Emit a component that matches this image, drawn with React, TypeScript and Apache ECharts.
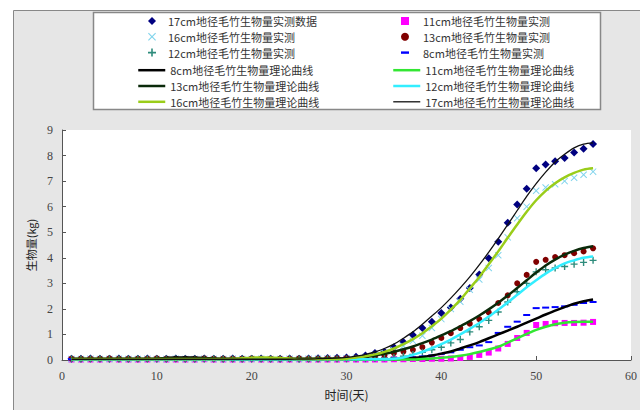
import React, { useEffect, useRef } from "react";
import * as echarts from "echarts";

const days = [1,2,3,4,5,6,7,8,9,10,11,12,13,14,15,16,17,18,19,20,21,22,23,24,25,26,27,28,29,30,31,32,33,34,35,36,37,38,39,40,41,42,43,44,45,46,47,48,49,50,51,52,53,54,55,56];

// measured
const m17 = [0.05,0.05,0.06,0.05,0.05,0.06,0.05,0.05,0.06,0.05, 0.05,0.06,0.05,0.05,0.06,0.05,0.05,0.06,0.05,0.05, 0.06,0.05,0.05,0.06,0.05,0.06,0.07,0.08,0.09,0.1, 0.13,0.18,0.27,0.32,0.5,0.7,0.98,1.25,1.5,1.84, 2.05,2.4,2.82,3.35,3.98,4.63,5.37,6.08,6.7,7.5, 7.65,7.78,7.9,8.12,8.27,8.45];
const m16 = [0.04,0.04,0.05,0.04,0.04,0.05,0.04,0.04,0.05,0.04, 0.04,0.05,0.04,0.04,0.05,0.04,0.04,0.05,0.04,0.04, 0.05,0.04,0.04,0.05,0.04,0.05,0.05,0.06,0.06,0.07, 0.08,0.12,0.2,0.28,0.38,0.55,0.75,0.95,1.25,1.6, 2.0,2.28,2.75,3.15,3.6,4.1,4.8,5.55,6.0,6.62, 6.75,6.88,7.0,7.13,7.25,7.37];
const m12 = [0.04,0.04,0.04,0.05,0.04,0.04,0.04,0.05,0.04,0.04, 0.04,0.05,0.04,0.04,0.04,0.05,0.04,0.04,0.04,0.05, 0.04,0.04,0.04,0.05,0.04,0.04,0.04,0.05,0.04,0.04, 0.05,0.05,0.06,0.08,0.1,0.15,0.22,0.3,0.4,0.5, 0.67,0.8,1.1,1.3,1.55,1.88,2.27,2.67,3.0,3.45, 3.53,3.6,3.66,3.75,3.82,3.9];
const m13 = [0.05,0.05,0.05,0.05,0.06,0.05,0.05,0.05,0.05,0.06, 0.05,0.05,0.05,0.05,0.06,0.05,0.05,0.05,0.05,0.06, 0.05,0.05,0.05,0.05,0.06,0.05,0.05,0.06,0.06,0.07, 0.08,0.1,0.15,0.2,0.27,0.33,0.4,0.5,0.68,0.86, 1.05,1.25,1.42,1.6,1.86,2.23,2.53,3.0,3.33,3.84, 3.92,4.03,4.1,4.18,4.25,4.37];
const m8 = [0.03,0.03,0.03,0.04,0.03,0.03,0.03,0.04,0.03,0.03, 0.03,0.04,0.03,0.03,0.03,0.04,0.03,0.03,0.03,0.04, 0.03,0.03,0.03,0.04,0.03,0.03,0.03,0.04,0.03,0.03, 0.03,0.04,0.04,0.04,0.05,0.07,0.1,0.14,0.18,0.24, 0.3,0.4,0.5,0.57,0.7,1.06,1.3,1.5,1.76,2.03, 2.05,2.07,2.1,2.16,2.23,2.27];
const m11 = [0.02,0.02,0.02,0.02,0.03,0.02,0.02,0.02,0.02,0.03, 0.02,0.02,0.02,0.02,0.03,0.02,0.02,0.02,0.02,0.03, 0.02,0.02,0.02,0.02,0.03,0.02,0.02,0.02,0.02,0.03, 0.02,0.02,0.02,0.02,0.03,0.03,0.04,0.04,0.05,0.05, 0.06,0.08,0.12,0.2,0.29,0.45,0.63,0.86,1.06,1.37, 1.41,1.44,1.45,1.45,1.46,1.49];

// theoretical curves
const f17 = [0.03,0.03,0.03,0.03,0.03,0.03,0.03,0.03,0.03,0.03, 0.03,0.03,0.03,0.03,0.03,0.03,0.03,0.03,0.03,0.03, 0.03,0.03,0.03,0.03,0.04,0.04,0.05,0.06,0.07,0.1, 0.15,0.22,0.32,0.45,0.62,0.85,1.1,1.4,1.72,2.05, 2.42,2.82,3.25,3.72,4.22,4.75,5.3,5.85,6.4,6.9, 7.35,7.75,8.05,8.3,8.45,8.5];
const f16 = [0.04,0.04,0.04,0.04,0.04,0.04,0.04,0.04,0.04,0.04, 0.04,0.04,0.04,0.04,0.04,0.04,0.04,0.05,0.07,0.09, 0.1,0.09,0.08,0.06,0.04,0.04,0.04,0.04,0.04,0.05, 0.1,0.15,0.22,0.32,0.45,0.62,0.82,1.05,1.32,1.62, 1.97,2.35,2.8,3.25,3.75,4.25,4.78,5.3,5.8,6.25, 6.62,6.92,7.15,7.32,7.45,7.5];
const f13 = [0.05,0.05,0.05,0.05,0.05,0.05,0.05,0.05,0.05,0.05, 0.05,0.05,0.05,0.05,0.05,0.05,0.05,0.05,0.05,0.05, 0.05,0.05,0.05,0.05,0.05,0.05,0.05,0.05,0.05,0.05, 0.08,0.12,0.17,0.24,0.32,0.42,0.53,0.66,0.8,0.96, 1.13,1.32,1.52,1.74,1.98,2.24,2.52,2.82,3.12,3.42, 3.7,3.93,4.12,4.27,4.38,4.45];
const f12 = [0.03,0.03,0.03,0.03,0.03,0.03,0.03,0.03,0.03,0.03, 0.03,0.03,0.03,0.03,0.03,0.03,0.03,0.03,0.03,0.03, 0.03,0.03,0.03,0.03,0.03,0.03,0.03,0.03,0.03,0.03, 0.03,0.03,0.03,0.03,0.05,0.1,0.2,0.32,0.46,0.62, 0.8,1.0,1.22,1.45,1.7,1.97,2.25,2.55,2.85,3.12, 3.38,3.6,3.78,3.9,4.0,4.05];
const f8 = [0.04,0.04,0.04,0.04,0.04,0.04,0.04,0.04,0.04,0.05, 0.08,0.1,0.1,0.09,0.08,0.06,0.04,0.04,0.04,0.04, 0.04,0.04,0.04,0.04,0.04,0.04,0.04,0.04,0.04,0.04, 0.03,0.03,0.03,0.03,0.03,0.05,0.08,0.12,0.18,0.25, 0.33,0.45,0.57,0.7,0.85,1.0,1.15,1.3,1.46,1.62, 1.78,1.93,2.07,2.2,2.3,2.37];
const f11 = [0.03,0.03,0.03,0.03,0.03,0.03,0.03,0.03,0.03,0.03, 0.03,0.03,0.03,0.03,0.03,0.03,0.03,0.03,0.03,0.03, 0.03,0.03,0.03,0.03,0.03,0.03,0.03,0.03,0.03,0.03, 0.02,0.02,0.02,0.02,0.02,0.02,0.02,0.04,0.06,0.09, 0.12,0.17,0.23,0.31,0.41,0.52,0.68,0.85,1.02,1.18, 1.3,1.4,1.46,1.49,1.5,1.5];

const yTicks = [0, 9, 1];
const xTicks = [0, 60, 10];

const N = {
  m17: "17cm地径毛竹生物量实测数据",
  m11: "11cm地径毛竹生物量实测",
  m16: "16cm地径毛竹生物量实测",
  m13: "13cm地径毛竹生物量实测",
  m12: "12cm地径毛竹生物量实测",
  m8: "8cm地径毛竹生物量实测",
  f8: "8cm地径毛竹生物量理论曲线",
  f11: "11cm地径毛竹生物量理论曲线",
  f13: "13cm地径毛竹生物量理论曲线",
  f12: "12cm地径毛竹生物量理论曲线",
  f16: "16cm地径毛竹生物量理论曲线",
  f17: "17cm地径毛竹生物量理论曲线",
};

const PLUS = "path://M4,0H6V4H10V6H6V10H4V6H0V4H4Z";
const CROSS = "path://M1,0L5,4L9,0L10,1L6,5L10,9L9,10L5,6L1,10L0,9L4,5L0,1Z";
const DASH = "path://M0,0H10V3H0Z";

const pair = (v: number[]) => days.map((d, i) => [d, v[i]]);

export default function App() {
  const ref = useRef<HTMLDivElement>(null);
  useEffect(() => {
    if (!ref.current) return;
    const chart = echarts.init(ref.current, undefined, { renderer: "svg" });
    const cjk = "'Noto Sans CJK SC', sans-serif";
    const scatter = (name: string, data: number[], symbol: string, size: any, color: string) => ({
      name, type: "scatter", data: pair(data), symbol, symbolSize: size,
      itemStyle: { color, opacity: 1 }, z: 2,
    });
    const line = (name: string, data: number[], color: string, width: number) => ({
      name, type: "line", data: pair(data), symbol: "none", showSymbol: false, smooth: 0.3,
      lineStyle: { color, width }, itemStyle: { color }, z: 3,
    });
    const rowH = 16.4;
    const gap = 3.8;
    const top0 = 10;
    const baseText = { color: "#333", fontSize: 11, fontFamily: cjk, lineHeight: 12 };
    const markLegend = (left: number, pad: number, items: { name: string; icon: string }[]) => ({
      left, top: top0, orient: "vertical", itemWidth: 8, itemHeight: 8, itemGap: gap,
      selectedMode: false, symbolKeepAspect: true,
      textStyle: { ...baseText, padding: [0, 0, 0, pad] },
      data: items.map((it) => ({ name: it.name, icon: it.icon })),
    });
    const lineLegend = (left: number, items: { name: string; w: number }[]) => ({
      left, top: top0 + 3 * rowH, orient: "vertical", itemWidth: 27, itemHeight: 8, itemGap: gap,
      selectedMode: false, textStyle: baseText,
      data: items.map((it) => ({ name: it.name, itemStyle: { opacity: 0 }, lineStyle: { width: it.w } })),
    });
    chart.setOption({
      animation: false,
      backgroundColor: "#ffffff",
      graphic: [
        { type: "rect", shape: { x: 13.5, y: 10.5, width: 700, height: 500 }, style: { fill: "#e6e6e6", stroke: "#888", lineWidth: 1 }, z: -10 },
        { type: "rect", shape: { x: 93.5, y: 12.5, width: 507, height: 97 }, style: { fill: "#ffffff", stroke: "#888", lineWidth: 1.5 }, z: -5 },
      ],
      grid: { left: 62, right: 9, top: 130, bottom: 50, show: true, backgroundColor: "#ffffff", borderWidth: 0 },
      legend: [
        markLegend(143, 7, [
          { name: N.m17, icon: "diamond" },
          { name: N.m16, icon: CROSS },
          { name: N.m12, icon: PLUS },
        ]),
        markLegend(396, 9, [
          { name: N.m11, icon: "rect" },
          { name: N.m13, icon: "circle" },
          { name: N.m8, icon: "path://M0,0H10V3H0Z" },
        ]),
        lineLegend(132, [
          { name: N.f8, w: 2.5 },
          { name: N.f13, w: 2.5 },
          { name: N.f16, w: 2.5 },
        ]),
        lineLegend(387, [
          { name: N.f11, w: 2.5 },
          { name: N.f12, w: 2.5 },
          { name: N.f17, w: 1.3 },
        ]),
      ],
      xAxis: {
        type: "value", min: xTicks[0], max: xTicks[1], interval: xTicks[2],
        name: "时间(天)", nameLocation: "middle", nameGap: 28,
        nameTextStyle: { color: "#222", fontSize: 12, fontFamily: cjk },
        axisLine: { lineStyle: { color: "#555", width: 1 } },
        axisTick: { inside: true, length: 4, lineStyle: { color: "#555" } },
        axisLabel: { color: "#444", fontSize: 12, fontFamily: "'Liberation Serif', serif", margin: 10 },
        splitLine: { show: false },
      },
      yAxis: {
        type: "value", min: yTicks[0], max: yTicks[1], interval: yTicks[2],
        name: "生物量(kg)", nameLocation: "middle", nameGap: 26, nameRotate: 90,
        nameTextStyle: { color: "#222", fontSize: 11, fontFamily: cjk },
        axisLine: { show: true, lineStyle: { color: "#555", width: 1 } },
        axisTick: { show: true, inside: true, length: 4, lineStyle: { color: "#555" } },
        axisLabel: { color: "#444", fontSize: 12, fontFamily: "'Liberation Serif', serif", margin: 9 },
        splitLine: { show: false },
      },
      series: [
        scatter(N.m17, m17, "diamond", 8, "#000080"),
        scatter(N.m11, m11, "rect", 6, "#ff00ff"),
        scatter(N.m16, m16, CROSS, 7, "#80d4ec"),
        scatter(N.m13, m13, "circle", 6, "#800000"),
        scatter(N.m12, m12, PLUS, 7, "#2e8c7c"),
        scatter(N.m8, m8, DASH, [7, 2], "#0000ff"),
        line(N.f8, f8, "#000000", 2.5),
        line(N.f11, f11, "#33e633", 2.5),
        line(N.f13, f13, "#0a2a0a", 2.5),
        line(N.f12, f12, "#33eeff", 2.5),
        line(N.f16, f16, "#9acd1a", 2.5),
        line(N.f17, f17, "#111111", 1.3),
      ],
    });
    return () => chart.dispose();
  }, []);
  return <div ref={ref} style={{ position: "fixed", left: 0, top: 0, width: 640, height: 410 }} />;
}
